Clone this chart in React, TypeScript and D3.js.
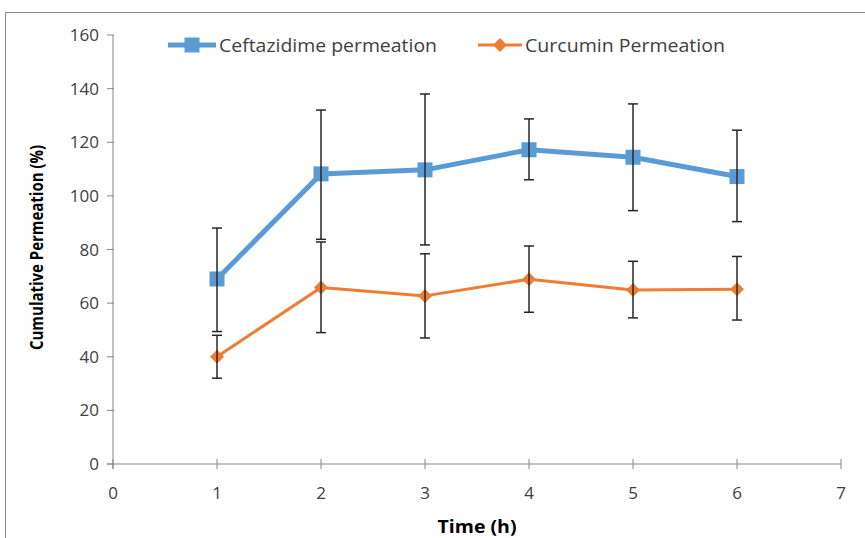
import React from "react";
import * as d3 from "d3";

const times = [1, 2, 3, 4, 5, 6];
const ceftazidime = [69, 108.2, 109.7, 117.2, 114.4, 107.2];
const ceftazidimeHigh = [88, 132, 138, 128.7, 134.3, 124.5];
const ceftazidimeLow = [49.4, 83.8, 81.7, 106, 94.5, 90.4];
const curcumin = [40, 65.8, 62.7, 68.9, 64.9, 65.2];
const curcuminHigh = [48, 82.8, 78.4, 81.3, 75.6, 77.4];
const curcuminLow = [32, 49, 47, 56.6, 54.5, 53.7];
const xTicks = [0, 1, 2, 3, 4, 5, 6, 7];
const yTicks = [0, 20, 40, 60, 80, 100, 120, 140, 160];

const W = 865;
const H = 538;
const FONT = "'Open Sans', Arial, sans-serif";

export default function App() {
  const x = d3.scaleLinear().domain([0, 7]).range([113, 841]);
  const y = d3.scaleLinear().domain([0, 160]).range([464, 35]);
  const line = d3
    .line<number>()
    .x((_, i) => x(times[i]))
    .y((d) => y(d));
  const axisColor = "#868686";
  const blue = "#5B9BD5";
  const orange = "#ED7D31";
  const errColor = "#262626";

  const errBars = (hi: number[], lo: number[], key: string) =>
    times.map((t, i) => (
      <g key={key + i} stroke={errColor} strokeWidth={1.5}>
        <line x1={x(t)} x2={x(t)} y1={y(hi[i])} y2={y(lo[i])} />
        <line x1={x(t) - 5} x2={x(t) + 5} y1={y(hi[i])} y2={y(hi[i])} />
        <line x1={x(t) - 5} x2={x(t) + 5} y1={y(lo[i])} y2={y(lo[i])} />
      </g>
    ));

  const diamond = (cx: number, cy: number, r: number) =>
    `M${cx},${cy - r}L${cx + r},${cy}L${cx},${cy + r}L${cx - r},${cy}Z`;

  return (
    <svg
      width={W}
      height={H}
      style={{ position: "absolute", left: 0, top: 0, background: "#fff" }}
      fontFamily={FONT}
    >
      <rect x={0} y={0} width={W} height={H} fill="#fff" />
      {/* outer border */}
      <line x1={5.5} x2={W} y1={12.5} y2={12.5} stroke="#8c8c8c" strokeWidth={1} />
      <line x1={5.5} x2={5.5} y1={12.5} y2={H} stroke="#8c8c8c" strokeWidth={1} />

      {/* y axis */}
      <line x1={x(0)} x2={x(0)} y1={y(160)} y2={y(0) + 5} stroke={axisColor} strokeWidth={1} />
      {yTicks.map((t) => (
        <g key={"yt" + t}>
          <line x1={x(0) - 6} x2={x(0) + 1} y1={y(t)} y2={y(t)} stroke={axisColor} />
          <text
            x={x(0) - 14}
            y={y(t)}
            dy="0.36em"
            textAnchor="end"
            fontSize={17}
            fill="#404040"
          >
            {t}
          </text>
        </g>
      ))}

      {/* x axis */}
      <line x1={x(0) - 6} x2={x(7)} y1={y(0)} y2={y(0)} stroke={axisColor} strokeWidth={1} />
      {xTicks.map((t) => (
        <g key={"xt" + t}>
          <line x1={x(t)} x2={x(t)} y1={y(0) - 5} y2={y(0) + 5} stroke={axisColor} />
          <text x={x(t)} y={y(0) + 35} textAnchor="middle" fontSize={17} fill="#404040">
            {t}
          </text>
        </g>
      ))}

      {/* axis titles */}
      <text
        transform={`translate(43,${y(80) - 2}) rotate(-90)`}
        textAnchor="middle"
        fontSize={17}
        fontWeight="bold"
        fill="#000"
        textLength={205}
        lengthAdjust="spacingAndGlyphs"
      >
        Cumulative Permeation (%)
      </text>
      <text
        x={477}
        y={533}
        textAnchor="middle"
        fontSize={18}
        fontWeight="bold"
        fill="#000"
        textLength={79}
        lengthAdjust="spacingAndGlyphs"
      >
        Time (h)
      </text>

      {/* series lines */}
      <path d={line(ceftazidime) || ""} fill="none" stroke={blue} strokeWidth={5} strokeLinejoin="round" />
      {times.map((t, i) => (
        <rect
          key={"sq" + i}
          x={x(t) - 7.5}
          y={y(ceftazidime[i]) - 7.5}
          width={15}
          height={15}
          fill={blue}
        />
      ))}
      <path d={line(curcumin) || ""} fill="none" stroke={orange} strokeWidth={3} strokeLinejoin="round" />
      {times.map((t, i) => (
        <path key={"dm" + i} d={diamond(x(t), y(curcumin[i]), 7)} fill={orange} />
      ))}

      {/* error bars */}
      {errBars(ceftazidimeHigh, ceftazidimeLow, "ce")}
      {errBars(curcuminHigh, curcuminLow, "cu")}

      {/* legend */}
      <line x1={168} x2={216} y1={45} y2={45} stroke={blue} strokeWidth={5} />
      <rect x={184.5} y={37.5} width={15} height={15} fill={blue} />
      <text
        x={219}
        y={45}
        dy="0.36em"
        fontSize={19}
        fill="#404040"
        textLength={218}
        lengthAdjust="spacingAndGlyphs"
      >
        Ceftazidime permeation
      </text>
      <line x1={478} x2={522} y1={45} y2={45} stroke={orange} strokeWidth={3} />
      <path d={diamond(500, 45, 7)} fill={orange} />
      <text
        x={525}
        y={45}
        dy="0.36em"
        fontSize={19}
        fill="#404040"
        textLength={200}
        lengthAdjust="spacingAndGlyphs"
      >
        Curcumin Permeation
      </text>
    </svg>
  );
}
